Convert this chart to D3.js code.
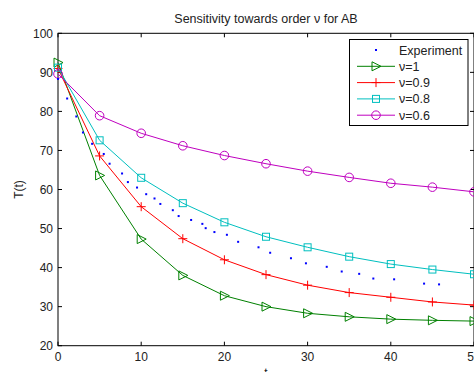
<!DOCTYPE html>
<meta charset="utf-8">
<style>
  body { margin: 0; background: #fff; }
  text { font-family: "Liberation Sans", Arial, sans-serif; fill: #222; }
</style>
<svg width="474" height="372"></svg>
<script src="https://d3js.org/d3.v7.min.js"></script>
<script>

var svg = d3.select("svg");

// model time points
var tModel = [0, 5, 10, 15, 20, 25, 30, 35, 40, 45, 50];

var nu1   = [92.5, 63.6, 47.3, 38.0, 32.8, 30.0, 28.3, 27.4, 26.8, 26.5, 26.3];
var nu09  = [91.0, 68.6, 55.6, 47.4, 42.0, 38.2, 35.5, 33.6, 32.4, 31.2, 30.4];
var nu08  = [91.2, 72.6, 63.0, 56.5, 51.6, 47.9, 45.2, 42.8, 40.9, 39.5, 38.3];
var nu06  = [89.6, 78.9, 74.4, 71.2, 68.7, 66.6, 64.7, 63.1, 61.6, 60.6, 59.4];

// experimental data
var tExp = [0.0, 1.1, 2.2, 3.0, 4.1, 5.5, 6.2, 7.7, 8.4, 9.5, 10.6, 11.6, 12.3,
            13.8, 14.5, 16.0, 17.35, 17.75, 18.8, 20.3, 21.65, 24.1, 25.5,
            28.0, 29.8, 32.3, 34.1, 36.2, 37.9, 40.4, 44.0, 45.8];
var TExp = [88.3, 83.3, 78.7, 74.6, 71.7, 69.1, 66.6, 64.1, 61.9, 60.5, 58.8, 57.7, 56.3,
            54.7, 53.2, 52.2, 51.2, 50.1, 49.1, 48.4, 46.6, 45.2, 43.8,
            42.4, 41.1, 40.2, 39.0, 38.4, 37.2, 37.0, 35.9, 35.7];

var xTicks = [0, 10, 20, 30, 40, 50];
var yTicks = [20, 30, 40, 50, 60, 70, 80, 90, 100];

var series = [
  { name: "\u03bd=1",   vals: nu1,  color: "#008000", marker: "tri" },
  { name: "\u03bd=0.9", vals: nu09, color: "#ff0000", marker: "plus" },
  { name: "\u03bd=0.8", vals: nu08, color: "#00bfbf", marker: "square" },
  { name: "\u03bd=0.6", vals: nu06, color: "#bf00bf", marker: "circle" }
];

var pLeft = 58, pRight = 474, pTop = 33.3, pBottom = 345.7;

var x = d3.scaleLinear().domain([0, 50]).range([pLeft, pRight]);
var y = d3.scaleLinear().domain([20, 100]).range([pBottom, pTop]);

// frame
svg.append("rect")
    .attr("x", pLeft).attr("y", pTop)
    .attr("width", pRight - pLeft).attr("height", pBottom - pTop)
    .attr("fill", "none").attr("stroke", "#000").attr("stroke-width", 1);

// ticks (inward, all sides)
var tl = 4;
var axes = svg.append("g").attr("stroke", "#000").attr("stroke-width", 1);
xTicks.forEach(function(t) {
  axes.append("line").attr("x1", x(t)).attr("x2", x(t)).attr("y1", pBottom).attr("y2", pBottom - tl);
  axes.append("line").attr("x1", x(t)).attr("x2", x(t)).attr("y1", pTop).attr("y2", pTop + tl);
});
yTicks.forEach(function(t) {
  axes.append("line").attr("x1", pLeft).attr("x2", pLeft + tl).attr("y1", y(t)).attr("y2", y(t));
  axes.append("line").attr("x1", pRight).attr("x2", pRight - tl).attr("y1", y(t)).attr("y2", y(t));
});

svg.append("g").selectAll("text").data(xTicks).enter().append("text")
    .attr("x", function(d) { return x(d); })
    .attr("y", pBottom + 15.5)
    .attr("text-anchor", "middle")
    .style("font-size", "12px")
    .text(function(d) { return d; });

svg.append("g").selectAll("text").data(yTicks).enter().append("text")
    .attr("x", pLeft - 5)
    .attr("y", function(d) { return y(d) + 4.3; })
    .attr("text-anchor", "end")
    .style("font-size", "12px")
    .text(function(d) { return d; });

svg.append("text")
    .attr("x", (pLeft + pRight) / 2).attr("y", 23)
    .attr("text-anchor", "middle")
    .style("font-size", "12.5px")
    .text("Sensitivity towards order \u03bd for AB");

svg.append("text")
    .attr("transform", "translate(23," + ((pTop + pBottom) / 2) + ") rotate(-90)")
    .attr("text-anchor", "middle")
    .style("font-size", "12px")
    .text("T(t)");

svg.append("text")
    .attr("x", (pLeft + pRight) / 2).attr("y", 377)
    .attr("text-anchor", "middle")
    .style("font-size", "12px")
    .text("t");

function drawMarker(g, type, cx, cy, color) {
  if (type == "tri") {
    g.append("path")
      .attr("d", "M" + (cx - 4) + "," + (cy - 4.5) + " L" + (cx + 5) + "," + cy + " L" + (cx - 4) + "," + (cy + 4.5) + " Z")
      .attr("fill", "none").attr("stroke", color);
  } else if (type == "plus") {
    g.append("path")
      .attr("d", "M" + (cx - 4.5) + "," + cy + " H" + (cx + 4.5) + " M" + cx + "," + (cy - 4.5) + " V" + (cy + 4.5))
      .attr("fill", "none").attr("stroke", color);
  } else if (type == "square") {
    g.append("rect")
      .attr("x", cx - 3.5).attr("y", cy - 3.5).attr("width", 7).attr("height", 7)
      .attr("fill", "none").attr("stroke", color);
  } else {
    g.append("circle")
      .attr("cx", cx).attr("cy", cy).attr("r", 4.3)
      .attr("fill", "none").attr("stroke", color);
  }
}

var line = d3.line()
    .x(function(d) { return x(d[0]); })
    .y(function(d) { return y(d[1]); });

var plot = svg.append("g");

series.forEach(function(s) {
  var pts = tModel.map(function(t, i) { return [t, s.vals[i]]; });
  plot.append("path")
      .attr("d", line(pts))
      .attr("fill", "none")
      .attr("stroke", s.color)
      .attr("stroke-width", 1);
  var mg = plot.append("g");
  pts.forEach(function(p) { drawMarker(mg, s.marker, x(p[0]), y(p[1]), s.color); });
});

plot.selectAll("rect.exp")
    .data(tExp)
    .enter().append("rect")
    .attr("class", "exp")
    .attr("x", function(d) { return x(d) - 1; })
    .attr("y", function(d, i) { return y(TExp[i]) - 1; })
    .attr("width", 2).attr("height", 2)
    .attr("fill", "#0000ff");

// legend
var lg = svg.append("g");
lg.append("rect")
    .attr("x", 349.5).attr("y", 39.5).attr("width", 118.5).attr("height", 86)
    .attr("fill", "#fff").attr("stroke", "#000").attr("stroke-width", 1);

var rowY = [50, 66.3, 82.6, 98.9, 115.2];
lg.append("rect").attr("x", 375).attr("y", rowY[0] - 1).attr("width", 2).attr("height", 2).attr("fill", "#0000ff");
lg.append("text").attr("x", 399).attr("y", rowY[0] + 4.5).style("font-size", "12.5px").text("Experiment");

series.forEach(function(s, i) {
  var yy = rowY[i + 1];
  lg.append("line").attr("x1", 357).attr("x2", 395).attr("y1", yy).attr("y2", yy)
    .attr("stroke", s.color).attr("stroke-width", 1);
  drawMarker(lg, s.marker, 376, yy, s.color);
  lg.append("text").attr("x", 399).attr("y", yy + 4.5).style("font-size", "12.5px").text(s.name);
});

</script>
